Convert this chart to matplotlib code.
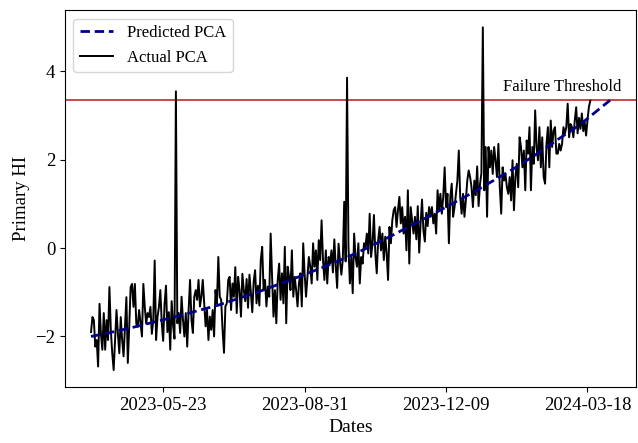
import numpy as np
import pandas as pd
import matplotlib
matplotlib.use('Agg')
import matplotlib.pyplot as plt
import matplotlib.dates as mdates
import matplotlib.transforms as mtransforms

plt.rcParams['font.family'] = ['Liberation Serif', 'DejaVu Serif']
plt.rcParams['mathtext.fontset'] = 'stix'


# --- actual PCA health indicator, one value per day from start_date

start_date = '2023-04-02'

actual_apr_may = [
    -1.90, -1.56, -1.63, -2.23, -2.08, -2.68, -1.26, -1.94, -2.30, -1.47,
    -2.30, -1.63, -2.08, -0.88, -1.86, -2.38, -2.76, -2.08, -1.40, -1.94,
    -2.38, -1.56, -2.08, -2.45, -1.78, -1.11, -2.60, -1.78, -0.88, -0.81,
    -1.33, -0.81, -1.71, -1.78, -1.40, -1.71, -2.00, -0.81, -1.33, -1.71,
    -1.47, -1.56, -1.33, -1.94, -1.63, -0.28, -2.08, -1.56, -1.33, -0.95,
    -1.70, -2.10, -1.25, -0.85, -1.90, -1.45, -2.30, -1.20, -1.75, -2.05,
    3.55,
]

actual_jun_jul = [
    -1.70, -1.47, -1.92, -1.10, -1.62, -2.00, -1.47, -2.23, -1.40, -0.72,
    -1.62, -1.92, -1.10, -0.95, -1.17, -0.72, -1.32, -1.10, -0.72, -1.25,
    -1.77, -1.40, -2.08, -1.55, -1.85, -1.40, -2.00, -0.95, -1.25, -0.20,
    -1.10, -1.17, -1.85, -2.37, -1.32, -1.25, -0.72, -0.65, -1.40, -0.80,
    -1.10, -0.43, -1.47, -0.65, -0.95, -1.55, -0.58, -0.95, -1.20, -0.70,
    -1.35, -0.60, -1.00, -1.45, -0.75, -0.50, -1.25, -0.85, -1.30,
]

actual_aug_sep = [
    -0.27, 0.03, -0.95, -0.72, -1.32, -0.87, -1.10, 0.33, -0.65, -1.55,
    -0.95, -1.70, -0.72, -0.35, -1.17, -0.57, -1.25, 0.03, -1.70, -0.42,
    -0.65, -0.95, -0.05, -1.10, -0.65, -0.95, -1.32, -0.80, -0.57, -1.32,
    0.11, -0.57, -1.10, -0.65, -0.20, -0.42, -0.80, 0.11, -0.42, -0.05,
    -0.72, 0.18, -0.27, 0.63, -0.27, -0.72, -0.05, -0.80, -0.20, -0.35,
    -0.05, -0.55, 0.20, -0.40, -0.90, 0.10, -0.30, -0.60, -0.25, 1.05,
    -0.30, 3.86,
]

actual_oct_dec = [
    0.03, -0.80, -0.20, -1.02, 0.33, -0.20, -0.42, 0.11, -0.80, -0.20,
    -0.35, 0.11, 0.03, 0.33, -0.12, 0.78, -0.20, 0.11, 0.75, -0.12,
    -0.57, 0.18, 0.48, -0.05, 0.33, -0.27, 0.26, -0.12, -0.72, 0.48,
    0.11, 0.63, 0.86, 0.93, 0.48, 0.86, 1.16, 0.56, 0.93, 0.33,
    0.71, -0.05, 1.31, -0.35, 0.93, 0.63, 0.33, 0.71, 0.20, 0.95,
    -0.10, 0.55, 1.10, 0.40, 0.15, 0.80, 0.50,
    0.93, 0.71, 0.93, 0.56, 0.78, 0.33, 1.31, 0.86, 1.23, 0.78,
    1.16, 1.83, 0.93, 1.23, 0.11, 1.16, 1.46, 0.71, 0.93, 1.23,
    1.53, 2.21, 1.16, 0.78, 1.23, 0.71, 1.08, 1.53, 1.76, 1.61,
    1.38, 0.93, 1.53, 1.20, 1.85, 0.95, 1.45, 1.70,
    5.00,
]

actual_jan_mar = [
    1.31, 2.29, 0.71, 2.29, 1.83, 2.21, 1.68, 2.29, 1.98, 1.61,
    2.36, 1.38, 0.78, 1.83, 1.53, 1.68, 1.38,
    1.23, 1.61, 1.08, 1.99, 0.86, 1.61, 1.91, 1.38, 2.51, 2.29,
    1.83, 2.21, 1.31, 2.44, 2.14, 2.74, 1.31, 2.29, 1.91, 3.12,
    2.29, 1.99, 2.74, 1.83, 2.51, 1.61, 1.46, 2.36, 2.74, 1.83,
    2.89, 2.29, 2.66, 2.74, 2.14, 2.14, 2.36, 2.21, 2.36, 2.74,
    2.59, 2.74, 3.27, 2.51, 2.81, 2.74, 2.51, 2.89, 3.19, 2.60,
    2.95, 2.70, 3.05, 2.65, 2.85, 2.55, 2.90, 3.20, 3.34,
]

# --- predicted PCA (fitted curve) read every ~15 days

pred_dates = ['2023-04-02', '2023-04-17', '2023-05-02', '2023-05-17', '2023-06-01',
              '2023-06-16', '2023-07-01', '2023-07-16', '2023-07-31', '2023-08-15',
              '2023-08-30', '2023-09-14', '2023-09-29', '2023-10-14', '2023-10-29',
              '2023-11-13', '2023-11-28', '2023-12-13', '2023-12-28', '2024-01-12',
              '2024-01-27', '2024-02-11', '2024-02-26', '2024-03-12', '2024-04-03']
pred_values = [-2.00, -1.90, -1.79, -1.67, -1.55,
               -1.42, -1.29, -1.13, -0.97, -0.79,
               -0.61, -0.42, -0.22, 0.00, 0.24,
               0.49, 0.74, 1.00, 1.26, 1.54,
               1.82, 2.13, 2.46, 2.78, 3.35]

failure_threshold = 3.35

tick_dates = ['2023-05-23', '2023-08-31', '2023-12-09', '2024-03-18']


actual = actual_apr_may + actual_jun_jul + actual_aug_sep + actual_oct_dec + actual_jan_mar
actual_dates = pd.date_range(start_date, periods=len(actual), freq='D')


fig = plt.figure(figsize=(6.38, 4.43), dpi=100)
ax = fig.add_axes((0.102, 0.126, 0.895, 0.851))

ax.plot(pd.to_datetime(pred_dates), pred_values, color='darkblue', ls='--', lw=2,
        dashes=(3.4, 1.7), label='Predicted PCA', zorder=3)
ax.plot(actual_dates, actual, color='k', lw=1.4, label='Actual PCA', zorder=2)

ax.axhline(failure_threshold, color='#c0282d', lw=1.2, zorder=1)
trans = mtransforms.blended_transform_factory(ax.transAxes, ax.transData)
ax.annotate('Failure Threshold', xy=(0.975, failure_threshold), xycoords=trans,
            xytext=(0, 4), textcoords='offset points', ha='right', va='bottom',
            fontsize=12)

ax.set_xticks(pd.to_datetime(tick_dates))
ax.xaxis.set_major_formatter(mdates.DateFormatter('%Y-%m-%d'))
ax.set_yticks([-2, 0, 2, 4])
ax.tick_params(labelsize=13.5)

ax.set_xlabel('Dates', fontsize=14)
ax.set_ylabel('Primary HI', fontsize=13.5)

ax.legend(loc='upper left', fontsize=12)

fig.savefig('out.png', dpi=100)
